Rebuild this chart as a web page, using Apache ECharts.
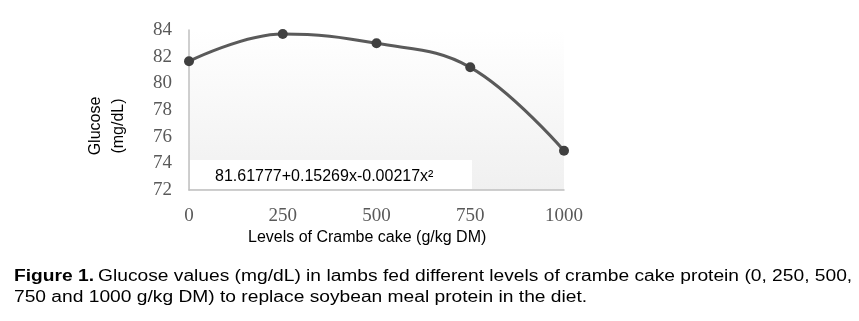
<!DOCTYPE html>
<html><head><meta charset="utf-8">
<script src="https://cdn.jsdelivr.net/npm/echarts@6/dist/echarts.min.js"></script>
<style>html,body{margin:0;padding:0;background:#fff}#c{width:859px;height:321px}</style>
</head><body><div id="c"></div>
<script>
const levels = [0, 250, 500, 750, 1000];
const glucose = [81.65, 83.7, 83.0, 81.2, 74.95];
const yTicks = [72, 84, 2];
const equation = '81.61777+0.15269x-0.00217x²';
const xTitle = 'Levels of Crambe cake (g/kg DM)';
const yTitle = 'Glucose\n(mg/dL)';
const caption1 = 'Glucose values (mg/dL) in lambs fed different levels of crambe cake protein (0, 250, 500,';
const caption2 = '750 and 1000 g/kg DM) to replace soybean meal protein in the diet.';

const chart = echarts.init(document.getElementById('c'));
chart.setOption({
  animation: false,
  grid: {left: 189, right: 295, top: 30, bottom: 131, show: true, borderWidth: 0,
    backgroundColor: {type: 'linear', x: 0, y: 0, x2: 0, y2: 1, colorStops: [{offset: 0, color: '#ffffff'}, {offset: 1, color: '#f0f0f0'}]}},
  xAxis: {type: 'value', min: 0, max: 1000, interval: 250,
    axisLine: {show: true, lineStyle: {color: '#bfbfbf', width: 1.5}}, axisTick: {show: false}, splitLine: {show: false},
    axisLabel: {fontFamily: 'Liberation Serif', fontSize: 19, color: '#595959', margin: 17, formatter: v => String(v)}},
  yAxis: {type: 'value', min: yTicks[0], max: yTicks[1], interval: yTicks[2],
    axisLine: {show: true, lineStyle: {color: '#bfbfbf', width: 1.5}}, axisTick: {show: false}, splitLine: {show: false},
    axisLabel: {fontFamily: 'Liberation Serif', fontSize: 19, color: '#595959', margin: 17, padding: [4, 0, 0, 0]}},
  series: [{type: 'line', smooth: 0.4, data: levels.map((x, i) => [x, glucose[i]]),
    symbol: 'circle', symbolSize: 10, lineStyle: {color: '#5a5a5a', width: 3},
    itemStyle: {color: '#404040'}, z: 3}],
  graphic: [
    {type: 'rect', left: 190, top: 160, shape: {width: 282, height: 29}, style: {fill: '#ffffff'}, z: 100},
    {type: 'text', left: 215, top: 169, style: {text: equation, font: '16px Liberation Sans', fill: '#000'}, z: 101},
    {type: 'text', left: 248, top: 230, style: {text: xTitle, font: '16px Liberation Sans', fill: '#000'}},
    {type: 'text', x: 84, y: 126, rotation: Math.PI/2, style: {text: yTitle, font: '16px Liberation Sans', fill: '#000', align: 'center', verticalAlign: 'top', lineHeight: 23}},
    {type: 'text', x: 14, y: 269, scaleX: 1.2, style: {rich: {b: {font: 'bold 16px Liberation Sans', fill: '#000'}, n: {font: '16px Liberation Sans', fill: '#000'}}, text: '{b|Figure 1.} {n|' + caption1 + '}'}},
    {type: 'text', x: 14, y: 290, scaleX: 1.2, style: {text: caption2, font: '16px Liberation Sans', fill: '#000'}}
  ]
});
</script></body></html>
